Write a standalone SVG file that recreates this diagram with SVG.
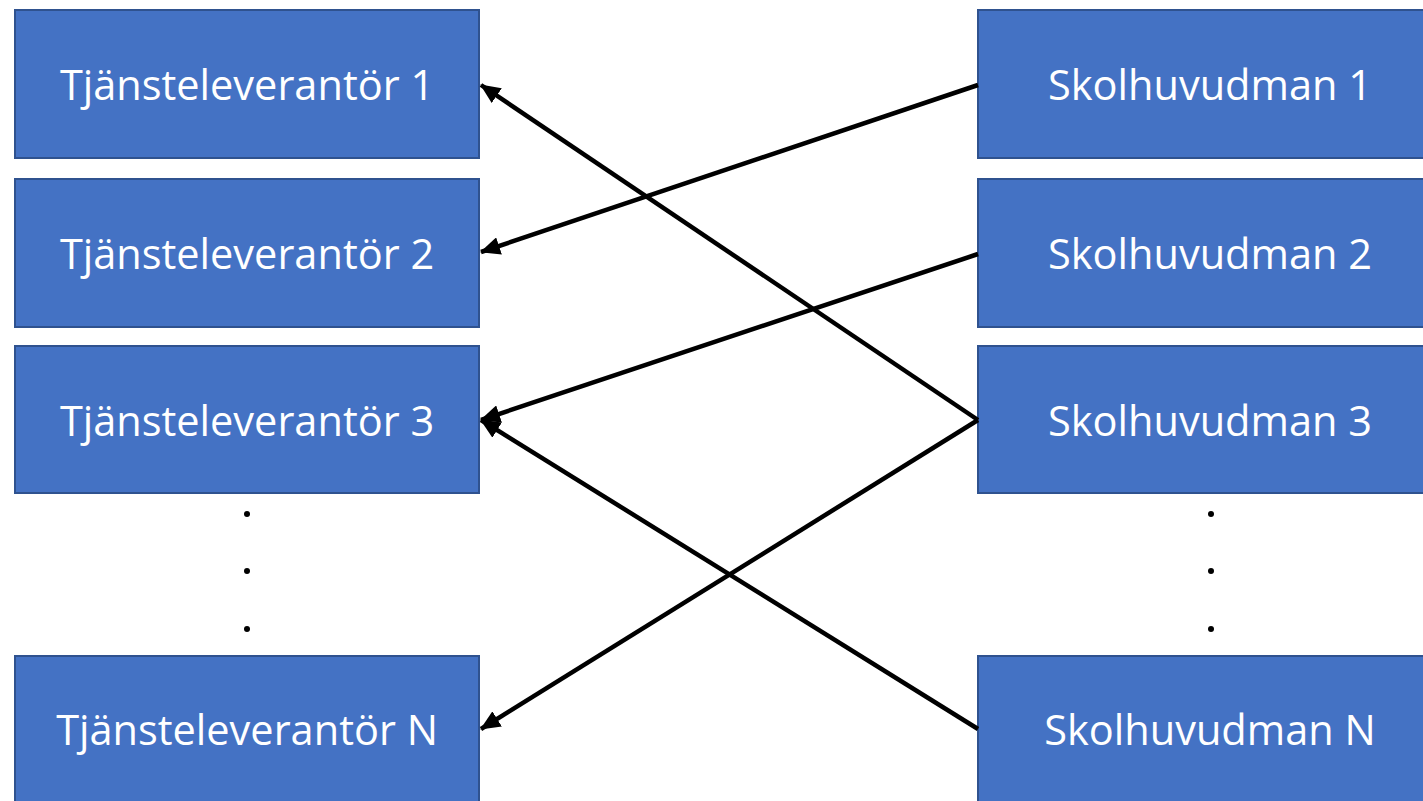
<svg xmlns="http://www.w3.org/2000/svg" width="1423" height="801" viewBox="0 0 1423 801">
<style>
.box{fill:#4472C4;stroke:#2F528F;stroke-width:2}
.lbl{font-family:"Open Sans","Liberation Sans",sans-serif;font-size:41.5px;fill:#FFFFFF;text-anchor:middle}
.dot{fill:#000}
.conn{stroke:#000;stroke-width:4.5;fill:none;marker-end:url(#ah)}
</style>
<defs>
<marker id="ah" markerUnits="userSpaceOnUse" markerWidth="22" markerHeight="18" refX="19" refY="9" orient="auto">
<path d="M0,0 L20,9 L0,18 Z" fill="#000"/>
</marker>
</defs>
<rect width="1423" height="801" fill="#fff"/>
<g id="tj1"><rect class="box" x="15" y="10" width="464" height="148"/><text class="lbl" x="247" y="100">Tjänsteleverantör 1</text></g>
<g id="tj2"><rect class="box" x="15" y="179" width="464" height="148"/><text class="lbl" x="247" y="269">Tjänsteleverantör 2</text></g>
<g id="tj3"><rect class="box" x="15" y="346" width="464" height="147"/><text class="lbl" x="247" y="436">Tjänsteleverantör 3</text></g>
<g id="tjN"><rect class="box" x="15" y="656" width="464" height="150"/><text class="lbl" x="247" y="745">Tjänsteleverantör N</text></g>
<g id="sk1"><rect class="box" x="978" y="10" width="464" height="148"/><text class="lbl" x="1210" y="100">Skolhuvudman 1</text></g>
<g id="sk2"><rect class="box" x="978" y="179" width="464" height="148"/><text class="lbl" x="1210" y="269">Skolhuvudman 2</text></g>
<g id="sk3"><rect class="box" x="978" y="346" width="464" height="147"/><text class="lbl" x="1210" y="436">Skolhuvudman 3</text></g>
<g id="skN"><rect class="box" x="978" y="656" width="464" height="150"/><text class="lbl" x="1210" y="745">Skolhuvudman N</text></g>
<g id="dots">
<circle class="dot" cx="247" cy="514" r="3"/><circle class="dot" cx="247" cy="571" r="3"/><circle class="dot" cx="247" cy="629" r="3"/>
<circle class="dot" cx="1211" cy="514" r="3"/><circle class="dot" cx="1211" cy="571" r="3"/><circle class="dot" cx="1211" cy="629" r="3"/>
</g>
<g id="connectors">
<line class="conn" x1="978" y1="85" x2="481" y2="252"/>
<line class="conn" x1="978" y1="254" x2="481" y2="420"/>
<line class="conn" x1="978" y1="420" x2="481" y2="85"/>
<line class="conn" x1="978" y1="420" x2="481" y2="729"/>
<line class="conn" x1="978" y1="729" x2="481" y2="420"/>
</g>
</svg>
